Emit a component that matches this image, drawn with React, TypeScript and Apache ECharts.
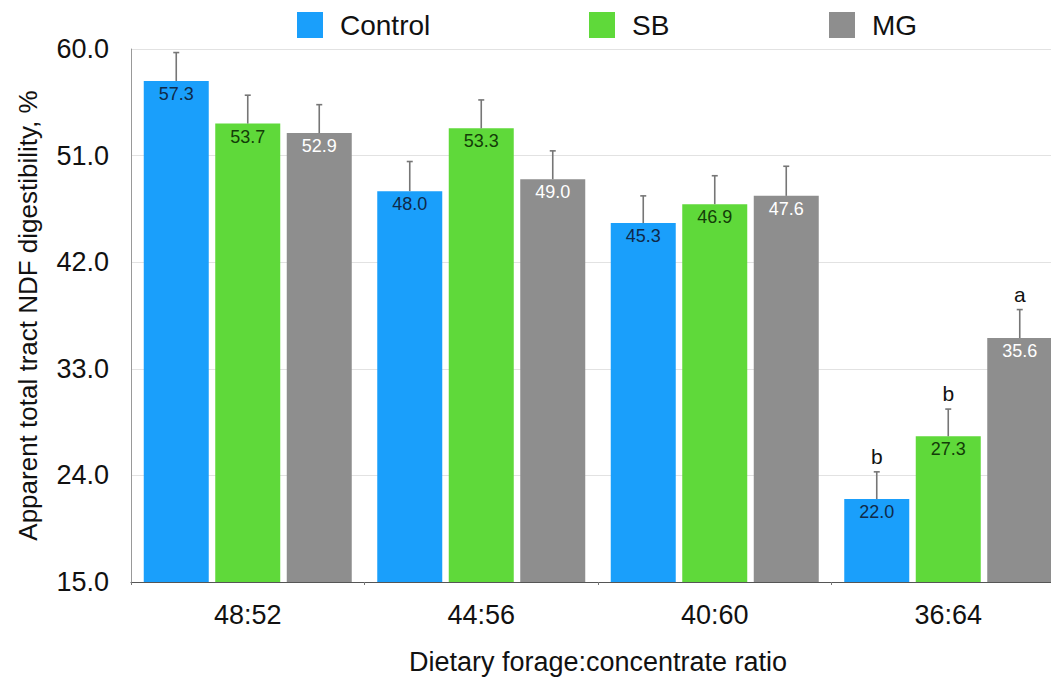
import React, { useEffect, useRef } from "react";
import * as echarts from "echarts";

const categories = ["48:52", "44:56", "40:60", "36:64"];
const seriesNames = ["Control", "SB", "MG"];
const controlValues = [57.3, 48.0, 45.3, 22.0];
const sbValues = [53.7, 53.3, 46.9, 27.3];
const mgValues = [52.9, 49.0, 47.6, 35.6];
const controlErrors = [2.4, 2.5, 2.3, 2.3];
const sbErrors = [2.4, 2.4, 2.4, 2.3];
const mgErrors = [2.4, 2.4, 2.5, 2.4];
const controlLetters = ["", "", "", "b"];
const sbLetters = ["", "", "", "b"];
const mgLetters = ["", "", "", "a"];
const yMin = 15;
const yMax = 60;
const yInterval = 9;

const FONT = "'Liberation Sans', Arial, Helvetica, sans-serif";
const colors = ["#1a9ffb", "#5fd93a", "#8e8e8e"];
const labelColors = ["#0f2a4a", "#133d08", "#ffffff"];
const BAR_W = 65;
const BAR_STEP = 71.5;

export default function App() {
  const ref = useRef<HTMLDivElement>(null);
  useEffect(() => {
    if (!ref.current) return;
    const chart = echarts.init(ref.current, null, { renderer: "svg" });
    const values = [controlValues, sbValues, mgValues];
    const errors = [controlErrors, sbErrors, mgErrors];
    const letters = [controlLetters, sbLetters, mgLetters];

    const barSeries = seriesNames.map((name, i) => ({
      name,
      type: "bar",
      data: values[i],
      barWidth: BAR_W,
      barGap: "10%",
      itemStyle: { color: colors[i] },
      label: {
        show: true,
        position: "insideTop",
        distance: 4,
        formatter: (p: any) => Number(p.value).toFixed(1),
        color: labelColors[i],
        fontSize: 18,
        fontFamily: FONT,
      },
      z: 2,
    }));

    const errSeries = seriesNames.map((name, i) => ({
      name: name + "-err",
      type: "custom",
      data: values[i].map((v, j) => [j, v, errors[i][j]]),
      z: 5,
      silent: true,
      renderItem: (params: any, api: any) => {
        const cat = api.value(0);
        const val = api.value(1);
        const err = api.value(2);
        const base = api.coord([cat, val]);
        const top = api.coord([cat, val + err]);
        const x = base[0] + (i - 1) * BAR_STEP;
        const letter = letters[i][params.dataIndex];
        const children: any[] = [
          {
            type: "line",
            shape: { x1: x, y1: base[1], x2: x, y2: top[1] },
            style: { stroke: "#767676", lineWidth: 1.6 },
          },
          {
            type: "line",
            shape: { x1: x - 3, y1: top[1], x2: x + 3, y2: top[1] },
            style: { stroke: "#767676", lineWidth: 1.6 },
          },
        ];
        if (letter) {
          children.push({
            type: "text",
            x,
            y: top[1] - 5,
            style: {
              text: letter,
              fill: "#111",
              font: `21px ${FONT}`,
              textAlign: "center",
              textVerticalAlign: "bottom",
            },
          });
        }
        return { type: "group", children };
      },
    }));

    const legendLefts = [297, 589, 829];

    chart.setOption({
      animation: false,
      backgroundColor: "#ffffff",
      legend: seriesNames.map((name, i) => ({
        data: [name],
        left: legendLefts[i],
        top: 11,
        padding: 0,
        itemWidth: 26,
        itemHeight: 26,
        icon: "rect",
        selectedMode: false,
        textStyle: {
          fontSize: 28,
          fontFamily: FONT,
          color: "#111",
          padding: [0, 0, 0, 12],
        },
      })),
      grid: { left: 131, right: 0, top: 49, bottom: 97, containLabel: false },
      xAxis: {
        type: "category",
        data: categories,
        name: "Dietary forage:concentrate ratio",
        nameLocation: "middle",
        nameGap: 66,
        nameTextStyle: { fontSize: 27, fontFamily: FONT, color: "#111" },
        axisLine: { lineStyle: { color: "#555", width: 1.2 } },
        axisTick: { show: true, length: 3, lineStyle: { color: "#777" } },
        axisLabel: { fontSize: 27, fontFamily: FONT, color: "#111", margin: 19 },
      },
      yAxis: {
        type: "value",
        min: yMin,
        max: yMax,
        interval: yInterval,
        name: "Apparent total tract NDF digestibility, %",
        nameLocation: "middle",
        nameGap: 90,
        nameTextStyle: { fontSize: 26, fontFamily: FONT, color: "#111" },
        axisLine: { show: true, lineStyle: { color: "#999", width: 1 } },
        axisTick: { show: false },
        axisLabel: {
          fontSize: 27,
          fontFamily: FONT,
          color: "#111",
          margin: 22,
          formatter: (v: number) => v.toFixed(1),
        },
        splitLine: { show: true, lineStyle: { color: "#e2e2e2", width: 1 } },
      },
      series: [...barSeries, ...errSeries],
    });
    return () => chart.dispose();
  }, []);
  return (
    <div
      style={{
        position: "fixed",
        left: 0,
        top: 0,
        width: 1051,
        height: 680,
        overflow: "hidden",
        background: "#fff",
      }}
    >
      <div ref={ref} style={{ width: 1065, height: 680 }} />
    </div>
  );
}
